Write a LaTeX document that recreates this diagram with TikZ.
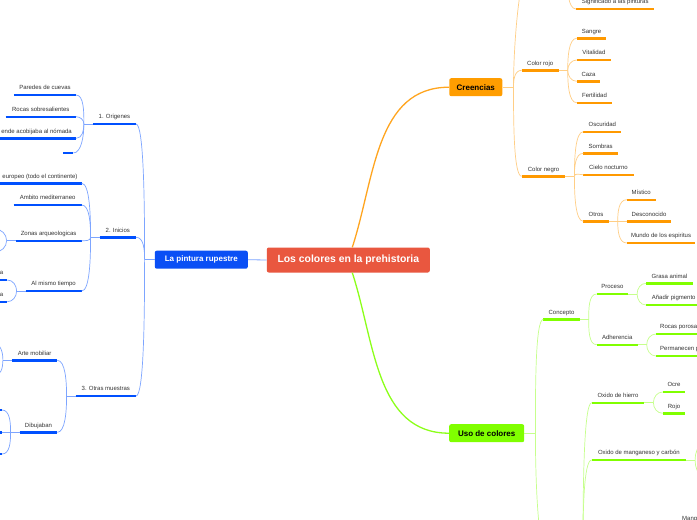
\documentclass[tikz,border=0pt]{standalone}
\usepackage{fontspec}
\setmainfont{Liberation Sans}
\usetikzlibrary{positioning}
\definecolor{rootred}{HTML}{E9573F}
\definecolor{bluebox}{HTML}{0A4FF5}
\definecolor{blueline}{HTML}{0050FF}
\definecolor{bluelink}{HTML}{7DA5FF}
\definecolor{orgbox}{HTML}{FF9D00}
\definecolor{orgline}{HTML}{FF9900}
\definecolor{orglink}{HTML}{FFCE85}
\definecolor{orgroot}{HTML}{FFA51F}
\definecolor{grnbox}{HTML}{80FF00}
\definecolor{grnline}{HTML}{80FF00}
\definecolor{grnlink}{HTML}{C6FF8C}
\definecolor{grnroot}{HTML}{8CFF1A}
\definecolor{ink}{HTML}{333333}
\tikzset{
  root/.style  = {fill=rootred, text=white, font=\bfseries\fontsize{10.4}{12}\selectfont,
                  rounded corners=2pt, minimum width=163pt, minimum height=25pt, inner sep=0pt},
  main/.style  = {fill=#1, rounded corners=2pt, font=\bfseries\fontsize{8}{9}\selectfont,
                  minimum height=18pt, inner sep=0pt},
  leaf/.style  = {font=\fontsize{6}{7}\selectfont, text=ink, inner xsep=4pt, inner ysep=3.7pt,
                  text height=4.5pt, text depth=1.3pt,
                  append after command={(\tikzlastnode.south west)
                    edge[draw=#1, line width=2.4pt] (\tikzlastnode.south east)}},
  bl/.style    = {leaf=blueline, anchor=south east, minimum width=#1},
  bl/.default  = 0pt,
  ol/.style    = {leaf=orgline, anchor=south west, minimum width=#1},
  ol/.default  = 0pt,
  gl/.style    = {leaf=grnline, anchor=south west, minimum width=#1},
  gl/.default  = 0pt,
  blink/.style = {draw=bluelink, line width=0.7pt},
  olink/.style = {draw=orglink, line width=0.7pt},
  glink/.style = {draw=grnlink, line width=0.7pt},
  toL/.style   = {out=#1, in=0, in max distance=8pt},
  toR/.style   = {out=#1, in=180, in max distance=8pt},
}

\begin{document}
\begin{tikzpicture}[x=1pt, y=-1pt]
\useasboundingbox (0,0) rectangle (697,520);
\clip (0,0) rectangle (697,520);
\fill[white] (0,0) rectangle (697,520);

% centre and main topics
\node[root] (root) at (348.3,260) {Los colores en la prehistoria};
\node[main=bluebox, text=white, minimum width=93pt] (pint) at (201.3,259.7) {La pintura rupestre};
\node[main=orgbox, minimum width=53pt] (cree) at (475.8,87.2) {Creencias};
\node[main=grnbox, minimum width=75pt] (uso) at (486.7,433.2) {Uso de colores};

\draw[blink, line width=0.8pt] (root.west) -- (pint.east);
\draw[draw=orgroot, line width=1.3pt] ([xshift=4pt]root.north) to[out=72, in=180] (cree.west);
\draw[draw=grnroot, line width=1.3pt] ([xshift=4pt]root.south) to[out=-72, in=180] (uso.west);

% la pintura rupestre
\node[bl=42.7pt] (org) at (136,124) {1. Origenes};
\node[bl=36pt] (ini) at (136,237.3) {2. Inicios};
\node[bl=60pt] (otr) at (136,396) {3. Otras muestras};
\draw[blink] (pint.west) -- ++(-10,0) coordinate (jp);
\foreach \n/\a in {org/90, ini/90, otr/-90}
  \draw[blink] (jp) to[toL=\a] (\n.south east);

\node[bl=61.7pt] (par) at (76,95) {Paredes de cuevas};
\node[bl=70pt] (roc) at (76,116.7) {Rocas sobresalientes};
\node[bl=76pt] (nom) at (76,138.3) {ende acobijaba al nómada};
\node[bl=10pt] (emp) at (73.3,153) {};
\draw[blink] (org.south west) -- ++(-9,0) coordinate (jo);
\foreach \n/\a in {par/90, roc/90, nom/-90, emp/-90}
  \draw[blink] (jo) to[toL=\a] (\n.south east);

\node[bl=82pt] (eur) at (81.7,183.3) {europeo (todo el continente)};
\node[bl=67.7pt] (med) at (81.7,205) {Ambito mediterraneo};
\node[bl=65.7pt] (zon) at (81.7,240.7) {Zonas arqueologicas};
\node[bl=55.7pt] (mis) at (81.7,291) {Al mismo tiempo};
\draw[blink] (ini.south west) -- ++(-9,0) coordinate (ji);
\foreach \n/\a in {eur/90, med/90, zon/-90, mis/-90}
  \draw[blink] (ji) to[toL=\a] (\n.south east);

\coordinate (zon1) at (-5,229);
\coordinate (zon2) at (-5,252);
\draw[blink] (zon.south west) -- ++(-9,0) coordinate (jz);
\foreach \n/\a in {zon1/90, zon2/-90}
  \draw[blink] (jz) to[toL=\a] (\n);

\node[bl] (mis1) at (7.3,280) {a};
\node[bl] (mis2) at (7.3,301.7) {a};
\draw[blink] (mis.south west) -- ++(-9,0) coordinate (jm);
\foreach \n/\a in {mis1/90, mis2/-90}
  \draw[blink] (jm) to[toL=\a] (\n.south east);

\node[bl=45pt] (art) at (57.3,360.3) {Arte mobiliar};
\node[bl=37.3pt] (dib) at (57.3,432.3) {Dibujaban};
\draw[blink] (otr.south west) -- ++(-9,0) coordinate (jt);
\foreach \n/\a in {art/90, dib/-90}
  \draw[blink] (jt) to[toL=\a] (\n.south east);

\coordinate (art1) at (-6,344);
\coordinate (art2) at (-6,376);
\draw[blink] (art.south west) -- ++(-9,0) coordinate (ja);
\foreach \n/\a in {art1/90, art2/-90}
  \draw[blink] (ja) to[toL=\a] (\n);

\node[bl=20pt] (dib1) at (2,410) {};
\node[bl=20pt] (dib2) at (2,432.3) {};
\node[bl=20pt] (dib3) at (2,454) {};
\draw[blink] (dib.south west) -- ++(-9,0) coordinate (jd);
\foreach \n/\a in {dib1/90, dib2/0, dib3/-90}
  \draw[blink] (jd) to[toL=\a] (\n.south east);

% creencias
\node[ol=36.6pt] (crr) at (521.7,70.3) {Color rojo};
\node[ol=43.3pt] (cng) at (521.7,176.3) {Color negro};
\coordinate (ctop) at (528,-30);
\draw[olink] (cree.east) -- ++(11,0) coordinate (jc);
\foreach \n/\a in {crr.south west/90, cng.south west/-90, ctop/90}
  \draw[olink] (jc) to[toR=\a] (\n);

\node[ol=78pt] (sig) at (576,9) {Significado a las pinturas};
\coordinate (sigj) at (567,-25);
\draw[olink] (sigj) to[toR=-90] (sig.south west);

\node[ol=29.3pt] (san) at (576.7,38.3) {Sangre};
\node[ol=34pt] (vit) at (576.7,60) {Vitalidad};
\node[ol=23.3pt] (caz) at (576.7,81.3) {Caza};
\node[ol=35.3pt] (fer) at (576.7,102.7) {Fertilidad};
\draw[olink] (crr.south east) -- ++(9,0) coordinate (jr);
\foreach \n/\a in {san/90, vit/90, caz/-90, fer/-90}
  \draw[olink] (jr) to[toR=\a] (\n.south west);

\node[ol=37.7pt] (osc) at (583.3,131.7) {Oscuridad};
\node[ol=34.4pt] (som) at (583.3,153.3) {Sombras};
\node[ol=50pt] (cie) at (583.3,174.7) {Cielo nocturno};
\node[ol=25pt] (otros) at (583.3,221.3) {Otros};
\draw[olink] (cng.south east) -- ++(9,0) coordinate (jn);
\foreach \n/\a in {osc/90, som/90, cie/90, otros/-90}
  \draw[olink] (jn) to[toR=\a] (\n.south west);

\node[ol=28.6pt] (mist) at (626.7,199.7) {Místico};
\node[ol=44.3pt] (desc) at (626.7,221.3) {Desconocido};
\node[ol=68.3pt] (mun) at (626.7,243) {Mundo de los espiritus};
\draw[olink] (otros.south east) -- ++(9,0) coordinate (jx);
\foreach \n/\a in {mist/90, desc/0, mun/-90}
  \draw[olink] (jx) to[toR=\a] (\n.south west);

% uso de colores
\node[gl=36pt] (con) at (543.3,319.3) {Concepto};
\coordinate (gbot) at (546,550);
\draw[glink] (uso.east) -- ++(11,0) coordinate (ju);
\foreach \n/\a in {con.south west/90, gbot/-90}
  \draw[glink] (ju) to[toR=\a] (\n);

\node[gl=31pt] (pro) at (596.7,294) {Proceso};
\node[gl=40.6pt] (adh) at (596.7,344.7) {Adherencia};
\draw[glink] (con.south east) -- ++(9,0) coordinate (jk);
\foreach \n/\a in {pro/90, adh/-90}
  \draw[glink] (jk) to[toR=\a] (\n.south west);

\node[gl=46.7pt] (gra) at (646,283.3) {Grasa animal};
\node[gl=55pt] (ana) at (646,305) {Añadir pigmento};
\draw[glink] (pro.south east) -- ++(9,0) coordinate (jpr);
\foreach \n/\a in {gra/90, ana/-90}
  \draw[glink] (jpr) to[toR=\a] (\n.south west);

\node[gl=45pt] (rpo) at (656,334) {Rocas porosa};
\node[gl=45pt] (per) at (656,356) {Permanecen p};
\draw[glink] (adh.south east) -- ++(9,0) coordinate (jad);
\foreach \n/\a in {rpo/90, per/-90}
  \draw[glink] (jad) to[toR=\a] (\n.south west);

\node[gl=52.3pt] (hie) at (591.7,402.7) {Oxido de hierro};
\node[gl=94pt] (man) at (591.7,460) {Oxido de manganeso y carbón};
\coordinate (gj) at (583,545);
\foreach \n in {hie, man}
  \draw[glink] (gj) to[toR=90] (\n.south west);

\node[gl=22.3pt] (ocr) at (662.7,392) {Ocre};
\node[gl=22.3pt] (roj) at (662.7,413.3) {Rojo};
\draw[glink] (hie.south east) -- ++(9,0) coordinate (jh);
\foreach \n/\a in {ocr/90, roj/-90}
  \draw[glink] (jh) to[toR=\a] (\n.south west);

\coordinate (mc1) at (704,445);
\coordinate (mc2) at (704,475);
\draw[glink] (man.south east) -- ++(9,0) coordinate (jmn);
\foreach \n/\a in {mc1/90, mc2/-90}
  \draw[glink] (jmn) to[toR=\a] (\n);

\node[gl] (mng) at (678,526) {Mang};

\end{tikzpicture}
\end{document}
